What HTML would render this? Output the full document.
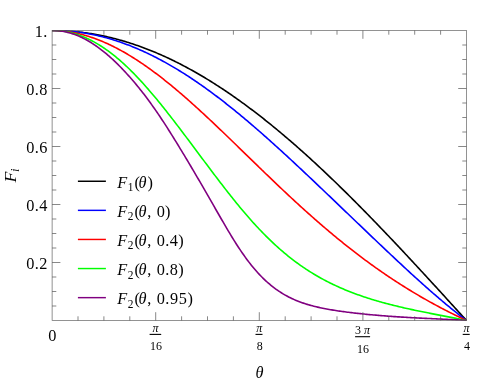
<!DOCTYPE html>
<html><head><meta charset="utf-8"><style>html,body{margin:0;padding:0;background:#fff}svg{display:block}</style></head><body><svg width="498" height="383" viewBox="0 0 498 383">
<rect width="498" height="383" fill="#fff"/>
<clipPath id="pc"><rect x="51.80" y="30.20" width="415.00" height="290.60"/></clipPath>
<g fill="none" stroke-width="1.6" stroke-linejoin="round" clip-path="url(#pc)">
<path d="M52.10 30.50 L53.40 30.50 L54.69 30.51 L55.98 30.53 L57.28 30.56 L58.58 30.59 L59.87 30.63 L61.16 30.67 L62.46 30.72 L63.76 30.78 L65.05 30.85 L66.34 30.92 L67.64 31.00 L68.94 31.09 L70.23 31.18 L71.53 31.29 L72.82 31.39 L74.12 31.51 L75.41 31.63 L76.70 31.76 L78.00 31.90 L79.30 32.04 L80.59 32.19 L81.89 32.35 L83.18 32.51 L84.47 32.68 L85.77 32.86 L87.06 33.04 L88.36 33.23 L89.66 33.43 L90.95 33.64 L92.25 33.85 L93.54 34.07 L94.84 34.30 L96.13 34.53 L97.42 34.77 L98.72 35.02 L100.02 35.27 L101.31 35.53 L102.61 35.80 L103.90 36.07 L105.20 36.35 L106.49 36.64 L107.78 36.94 L109.08 37.24 L110.38 37.55 L111.67 37.86 L112.97 38.18 L114.26 38.51 L115.56 38.85 L116.85 39.19 L118.15 39.54 L119.44 39.90 L120.74 40.26 L122.03 40.63 L123.32 41.00 L124.62 41.39 L125.91 41.78 L127.21 42.17 L128.50 42.58 L129.80 42.99 L131.09 43.40 L132.39 43.83 L133.69 44.26 L134.98 44.69 L136.28 45.14 L137.57 45.59 L138.87 46.04 L140.16 46.51 L141.46 46.98 L142.75 47.45 L144.05 47.94 L145.34 48.42 L146.64 48.92 L147.93 49.42 L149.22 49.93 L150.52 50.45 L151.81 50.97 L153.11 51.50 L154.41 52.03 L155.70 52.57 L157.00 53.12 L158.29 53.68 L159.59 54.24 L160.88 54.81 L162.17 55.38 L163.47 55.96 L164.77 56.55 L166.06 57.14 L167.35 57.74 L168.65 58.34 L169.94 58.95 L171.24 59.57 L172.53 60.20 L173.83 60.83 L175.12 61.46 L176.42 62.11 L177.72 62.76 L179.01 63.41 L180.30 64.07 L181.60 64.74 L182.90 65.42 L184.19 66.10 L185.48 66.78 L186.78 67.48 L188.07 68.17 L189.37 68.88 L190.66 69.59 L191.96 70.31 L193.25 71.03 L194.55 71.76 L195.84 72.49 L197.14 73.23 L198.44 73.98 L199.73 74.73 L201.02 75.49 L202.32 76.26 L203.62 77.03 L204.91 77.80 L206.20 78.59 L207.50 79.37 L208.80 80.17 L210.09 80.97 L211.38 81.77 L212.68 82.58 L213.97 83.40 L215.27 84.22 L216.56 85.05 L217.86 85.89 L219.16 86.72 L220.45 87.57 L221.75 88.42 L223.04 89.28 L224.34 90.14 L225.63 91.01 L226.92 91.88 L228.22 92.76 L229.51 93.64 L230.81 94.53 L232.10 95.43 L233.40 96.33 L234.69 97.23 L235.99 98.14 L237.28 99.06 L238.58 99.98 L239.87 100.91 L241.17 101.84 L242.47 102.78 L243.76 103.72 L245.05 104.67 L246.35 105.62 L247.65 106.58 L248.94 107.55 L250.23 108.52 L251.53 109.49 L252.82 110.47 L254.12 111.45 L255.41 112.44 L256.71 113.44 L258.00 114.43 L259.30 115.44 L260.60 116.45 L261.89 117.46 L263.19 118.48 L264.48 119.50 L265.77 120.53 L267.07 121.57 L268.37 122.60 L269.66 123.65 L270.96 124.70 L272.25 125.75 L273.55 126.81 L274.84 127.87 L276.13 128.93 L277.43 130.00 L278.73 131.08 L280.02 132.16 L281.31 133.24 L282.61 134.33 L283.91 135.43 L285.20 136.53 L286.50 137.63 L287.79 138.74 L289.08 139.85 L290.38 140.96 L291.68 142.08 L292.97 143.21 L294.26 144.34 L295.56 145.47 L296.86 146.61 L298.15 147.75 L299.44 148.89 L300.74 150.04 L302.04 151.20 L303.33 152.35 L304.62 153.52 L305.92 154.68 L307.22 155.85 L308.51 157.03 L309.81 158.20 L311.10 159.38 L312.40 160.57 L313.69 161.76 L314.99 162.95 L316.28 164.15 L317.57 165.35 L318.87 166.56 L320.17 167.76 L321.46 168.98 L322.76 170.19 L324.05 171.41 L325.35 172.63 L326.64 173.86 L327.94 175.09 L329.23 176.32 L330.53 177.56 L331.82 178.80 L333.12 180.04 L334.41 181.29 L335.71 182.54 L337.00 183.79 L338.30 185.05 L339.59 186.31 L340.88 187.58 L342.18 188.84 L343.48 190.11 L344.77 191.39 L346.07 192.66 L347.36 193.94 L348.66 195.22 L349.95 196.51 L351.25 197.80 L352.54 199.09 L353.84 200.38 L355.13 201.68 L356.43 202.98 L357.72 204.28 L359.02 205.59 L360.31 206.90 L361.61 208.21 L362.90 209.52 L364.20 210.84 L365.49 212.16 L366.79 213.48 L368.08 214.80 L369.38 216.13 L370.67 217.46 L371.97 218.79 L373.26 220.13 L374.56 221.46 L375.85 222.80 L377.15 224.14 L378.44 225.49 L379.74 226.83 L381.03 228.18 L382.32 229.53 L383.62 230.89 L384.92 232.24 L386.21 233.60 L387.51 234.96 L388.80 236.32 L390.10 237.68 L391.39 239.05 L392.69 240.41 L393.98 241.78 L395.27 243.15 L396.57 244.53 L397.87 245.90 L399.16 247.28 L400.46 248.66 L401.75 250.04 L403.05 251.42 L404.34 252.80 L405.63 254.19 L406.93 255.57 L408.23 256.96 L409.52 258.35 L410.82 259.74 L412.11 261.13 L413.41 262.53 L414.70 263.92 L416.00 265.32 L417.29 266.72 L418.59 268.12 L419.88 269.52 L421.18 270.92 L422.47 272.32 L423.77 273.73 L425.06 275.13 L426.36 276.54 L427.65 277.95 L428.94 279.36 L430.24 280.77 L431.54 282.18 L432.83 283.59 L434.12 285.00 L435.42 286.41 L436.72 287.83 L438.01 289.24 L439.31 290.66 L440.60 292.08 L441.90 293.49 L443.19 294.91 L444.49 296.33 L445.78 297.75 L447.07 299.17 L448.37 300.59 L449.67 302.01 L450.96 303.43 L452.26 304.85 L453.55 306.27 L454.85 307.69 L456.14 309.11 L457.44 310.54 L458.73 311.96 L460.02 313.38 L461.32 314.81 L462.62 316.23 L463.91 317.65 L465.21 319.08 L466.50 320.50" stroke="#000000"/>
<path d="M52.10 30.41 L53.40 30.41 L54.69 30.42 L55.98 30.44 L57.28 30.47 L58.58 30.50 L59.87 30.55 L61.16 30.60 L62.46 30.66 L63.76 30.73 L65.05 30.81 L66.34 30.90 L67.64 30.99 L68.94 31.10 L70.23 31.21 L71.53 31.33 L72.82 31.46 L74.12 31.60 L75.41 31.75 L76.70 31.90 L78.00 32.07 L79.30 32.24 L80.59 32.42 L81.89 32.61 L83.18 32.81 L84.47 33.02 L85.77 33.24 L87.06 33.46 L88.36 33.69 L89.66 33.94 L90.95 34.19 L92.25 34.44 L93.54 34.71 L94.84 34.99 L96.13 35.27 L97.42 35.57 L98.72 35.87 L100.02 36.18 L101.31 36.50 L102.61 36.82 L103.90 37.16 L105.20 37.50 L106.49 37.85 L107.78 38.22 L109.08 38.58 L110.38 38.96 L111.67 39.35 L112.97 39.74 L114.26 40.14 L115.56 40.56 L116.85 40.98 L118.15 41.40 L119.44 41.84 L120.74 42.28 L122.03 42.74 L123.32 43.20 L124.62 43.66 L125.91 44.14 L127.21 44.63 L128.50 45.12 L129.80 45.62 L131.09 46.13 L132.39 46.65 L133.69 47.17 L134.98 47.71 L136.28 48.25 L137.57 48.80 L138.87 49.36 L140.16 49.92 L141.46 50.50 L142.75 51.08 L144.05 51.67 L145.34 52.27 L146.64 52.87 L147.93 53.48 L149.22 54.11 L150.52 54.73 L151.81 55.37 L153.11 56.01 L154.41 56.67 L155.70 57.33 L157.00 57.99 L158.29 58.67 L159.59 59.35 L160.88 60.04 L162.17 60.73 L163.47 61.44 L164.77 62.15 L166.06 62.87 L167.35 63.60 L168.65 64.33 L169.94 65.07 L171.24 65.82 L172.53 66.57 L173.83 67.34 L175.12 68.11 L176.42 68.88 L177.72 69.67 L179.01 70.46 L180.30 71.26 L181.60 72.06 L182.90 72.87 L184.19 73.69 L185.48 74.52 L186.78 75.35 L188.07 76.19 L189.37 77.03 L190.66 77.89 L191.96 78.75 L193.25 79.61 L194.55 80.48 L195.84 81.36 L197.14 82.25 L198.44 83.14 L199.73 84.04 L201.02 84.94 L202.32 85.85 L203.62 86.77 L204.91 87.69 L206.20 88.62 L207.50 89.55 L208.80 90.49 L210.09 91.44 L211.38 92.39 L212.68 93.35 L213.97 94.32 L215.27 95.29 L216.56 96.26 L217.86 97.24 L219.16 98.23 L220.45 99.22 L221.75 100.22 L223.04 101.23 L224.34 102.23 L225.63 103.25 L226.92 104.27 L228.22 105.29 L229.51 106.32 L230.81 107.35 L232.10 108.39 L233.40 109.44 L234.69 110.49 L235.99 111.54 L237.28 112.60 L238.58 113.66 L239.87 114.73 L241.17 115.80 L242.47 116.88 L243.76 117.96 L245.05 119.05 L246.35 120.13 L247.65 121.23 L248.94 122.33 L250.23 123.43 L251.53 124.53 L252.82 125.64 L254.12 126.76 L255.41 127.88 L256.71 129.00 L258.00 130.12 L259.30 131.25 L260.60 132.38 L261.89 133.52 L263.19 134.66 L264.48 135.80 L265.77 136.95 L267.07 138.10 L268.37 139.25 L269.66 140.41 L270.96 141.57 L272.25 142.73 L273.55 143.89 L274.84 145.06 L276.13 146.23 L277.43 147.40 L278.73 148.58 L280.02 149.76 L281.31 150.94 L282.61 152.13 L283.91 153.31 L285.20 154.50 L286.50 155.69 L287.79 156.89 L289.08 158.08 L290.38 159.28 L291.68 160.48 L292.97 161.68 L294.26 162.89 L295.56 164.09 L296.86 165.30 L298.15 166.51 L299.44 167.72 L300.74 168.94 L302.04 170.15 L303.33 171.37 L304.62 172.59 L305.92 173.81 L307.22 175.03 L308.51 176.25 L309.81 177.47 L311.10 178.70 L312.40 179.92 L313.69 181.15 L314.99 182.38 L316.28 183.61 L317.57 184.84 L318.87 186.07 L320.17 187.30 L321.46 188.54 L322.76 189.77 L324.05 191.01 L325.35 192.24 L326.64 193.48 L327.94 194.71 L329.23 195.95 L330.53 197.19 L331.82 198.43 L333.12 199.66 L334.41 200.90 L335.71 202.14 L337.00 203.38 L338.30 204.62 L339.59 205.86 L340.88 207.10 L342.18 208.34 L343.48 209.58 L344.77 210.81 L346.07 212.05 L347.36 213.29 L348.66 214.53 L349.95 215.77 L351.25 217.01 L352.54 218.25 L353.84 219.49 L355.13 220.73 L356.43 221.97 L357.72 223.21 L359.02 224.45 L360.31 225.68 L361.61 226.92 L362.90 228.16 L364.20 229.40 L365.49 230.64 L366.79 231.87 L368.08 233.11 L369.38 234.34 L370.67 235.58 L371.97 236.81 L373.26 238.05 L374.56 239.28 L375.85 240.51 L377.15 241.75 L378.44 242.98 L379.74 244.21 L381.03 245.44 L382.32 246.66 L383.62 247.89 L384.92 249.12 L386.21 250.34 L387.51 251.57 L388.80 252.79 L390.10 254.01 L391.39 255.23 L392.69 256.45 L393.98 257.66 L395.27 258.88 L396.57 260.09 L397.87 261.30 L399.16 262.51 L400.46 263.71 L401.75 264.92 L403.05 266.12 L404.34 267.32 L405.63 268.52 L406.93 269.72 L408.23 270.91 L409.52 272.10 L410.82 273.29 L412.11 274.47 L413.41 275.65 L414.70 276.83 L416.00 278.01 L417.29 279.18 L418.59 280.35 L419.88 281.52 L421.18 282.68 L422.47 283.84 L423.77 285.00 L425.06 286.15 L426.36 287.30 L427.65 288.45 L428.94 289.59 L430.24 290.73 L431.54 291.86 L432.83 292.99 L434.12 294.11 L435.42 295.23 L436.72 296.35 L438.01 297.46 L439.31 298.56 L440.60 299.66 L441.90 300.76 L443.19 301.85 L444.49 302.94 L445.78 304.02 L447.07 305.09 L448.37 306.16 L449.67 307.23 L450.96 308.28 L452.26 309.34 L453.55 310.38 L454.85 311.42 L456.14 312.46 L457.44 313.49 L458.73 314.51 L460.02 315.52 L461.32 316.53 L462.62 317.53 L463.91 318.53 L465.21 319.52 L466.50 320.50" stroke="#0000ff"/>
<path d="M52.10 30.38 L53.40 30.40 L54.69 30.44 L55.98 30.49 L57.28 30.56 L58.58 30.64 L59.87 30.73 L61.16 30.84 L62.46 30.97 L63.76 31.10 L65.05 31.26 L66.34 31.42 L67.64 31.60 L68.94 31.79 L70.23 32.00 L71.53 32.22 L72.82 32.46 L74.12 32.71 L75.41 32.97 L76.70 33.25 L78.00 33.54 L79.30 33.84 L80.59 34.16 L81.89 34.49 L83.18 34.84 L84.47 35.20 L85.77 35.57 L87.06 35.95 L88.36 36.35 L89.66 36.76 L90.95 37.18 L92.25 37.62 L93.54 38.07 L94.84 38.53 L96.13 39.01 L97.42 39.50 L98.72 40.00 L100.02 40.51 L101.31 41.04 L102.61 41.58 L103.90 42.13 L105.20 42.69 L106.49 43.27 L107.78 43.85 L109.08 44.45 L110.38 45.07 L111.67 45.69 L112.97 46.32 L114.26 46.97 L115.56 47.63 L116.85 48.30 L118.15 48.98 L119.44 49.67 L120.74 50.38 L122.03 51.09 L123.32 51.82 L124.62 52.55 L125.91 53.30 L127.21 54.06 L128.50 54.83 L129.80 55.61 L131.09 56.40 L132.39 57.20 L133.69 58.01 L134.98 58.83 L136.28 59.66 L137.57 60.50 L138.87 61.35 L140.16 62.21 L141.46 63.08 L142.75 63.96 L144.05 64.85 L145.34 65.75 L146.64 66.66 L147.93 67.57 L149.22 68.50 L150.52 69.43 L151.81 70.38 L153.11 71.33 L154.41 72.29 L155.70 73.26 L157.00 74.23 L158.29 75.22 L159.59 76.21 L160.88 77.21 L162.17 78.22 L163.47 79.24 L164.77 80.26 L166.06 81.29 L167.35 82.33 L168.65 83.38 L169.94 84.43 L171.24 85.49 L172.53 86.56 L173.83 87.63 L175.12 88.71 L176.42 89.80 L177.72 90.89 L179.01 91.99 L180.30 93.10 L181.60 94.21 L182.90 95.33 L184.19 96.45 L185.48 97.58 L186.78 98.72 L188.07 99.86 L189.37 101.00 L190.66 102.15 L191.96 103.31 L193.25 104.47 L194.55 105.64 L195.84 106.81 L197.14 107.98 L198.44 109.16 L199.73 110.35 L201.02 111.54 L202.32 112.73 L203.62 113.93 L204.91 115.13 L206.20 116.33 L207.50 117.54 L208.80 118.75 L210.09 119.97 L211.38 121.19 L212.68 122.41 L213.97 123.63 L215.27 124.86 L216.56 126.09 L217.86 127.33 L219.16 128.56 L220.45 129.80 L221.75 131.04 L223.04 132.28 L224.34 133.53 L225.63 134.77 L226.92 136.02 L228.22 137.27 L229.51 138.52 L230.81 139.77 L232.10 141.03 L233.40 142.28 L234.69 143.54 L235.99 144.80 L237.28 146.05 L238.58 147.31 L239.87 148.57 L241.17 149.83 L242.47 151.09 L243.76 152.35 L245.05 153.61 L246.35 154.87 L247.65 156.13 L248.94 157.39 L250.23 158.65 L251.53 159.91 L252.82 161.17 L254.12 162.42 L255.41 163.68 L256.71 164.94 L258.00 166.19 L259.30 167.45 L260.60 168.70 L261.89 169.95 L263.19 171.20 L264.48 172.45 L265.77 173.70 L267.07 174.95 L268.37 176.19 L269.66 177.44 L270.96 178.68 L272.25 179.92 L273.55 181.16 L274.84 182.39 L276.13 183.62 L277.43 184.86 L278.73 186.08 L280.02 187.31 L281.31 188.54 L282.61 189.76 L283.91 190.98 L285.20 192.19 L286.50 193.41 L287.79 194.62 L289.08 195.83 L290.38 197.03 L291.68 198.23 L292.97 199.43 L294.26 200.63 L295.56 201.82 L296.86 203.01 L298.15 204.20 L299.44 205.38 L300.74 206.56 L302.04 207.74 L303.33 208.91 L304.62 210.08 L305.92 211.25 L307.22 212.41 L308.51 213.57 L309.81 214.72 L311.10 215.87 L312.40 217.02 L313.69 218.16 L314.99 219.30 L316.28 220.43 L317.57 221.56 L318.87 222.69 L320.17 223.81 L321.46 224.93 L322.76 226.05 L324.05 227.16 L325.35 228.26 L326.64 229.36 L327.94 230.46 L329.23 231.55 L330.53 232.64 L331.82 233.73 L333.12 234.81 L334.41 235.88 L335.71 236.95 L337.00 238.02 L338.30 239.08 L339.59 240.13 L340.88 241.19 L342.18 242.23 L343.48 243.28 L344.77 244.31 L346.07 245.35 L347.36 246.38 L348.66 247.40 L349.95 248.42 L351.25 249.43 L352.54 250.44 L353.84 251.45 L355.13 252.45 L356.43 253.44 L357.72 254.43 L359.02 255.42 L360.31 256.40 L361.61 257.37 L362.90 258.35 L364.20 259.31 L365.49 260.27 L366.79 261.23 L368.08 262.18 L369.38 263.12 L370.67 264.07 L371.97 265.00 L373.26 265.93 L374.56 266.86 L375.85 267.78 L377.15 268.70 L378.44 269.61 L379.74 270.51 L381.03 271.42 L382.32 272.31 L383.62 273.20 L384.92 274.09 L386.21 274.97 L387.51 275.85 L388.80 276.72 L390.10 277.59 L391.39 278.45 L392.69 279.31 L393.98 280.16 L395.27 281.01 L396.57 281.85 L397.87 282.69 L399.16 283.52 L400.46 284.35 L401.75 285.17 L403.05 285.99 L404.34 286.80 L405.63 287.61 L406.93 288.42 L408.23 289.21 L409.52 290.01 L410.82 290.80 L412.11 291.58 L413.41 292.36 L414.70 293.14 L416.00 293.91 L417.29 294.67 L418.59 295.43 L419.88 296.19 L421.18 296.94 L422.47 297.69 L423.77 298.43 L425.06 299.17 L426.36 299.90 L427.65 300.63 L428.94 301.36 L430.24 302.08 L431.54 302.79 L432.83 303.50 L434.12 304.21 L435.42 304.91 L436.72 305.61 L438.01 306.30 L439.31 306.99 L440.60 307.68 L441.90 308.36 L443.19 309.03 L444.49 309.71 L445.78 310.37 L447.07 311.04 L448.37 311.70 L449.67 312.35 L450.96 313.00 L452.26 313.65 L453.55 314.29 L454.85 314.93 L456.14 315.57 L457.44 316.20 L458.73 316.82 L460.02 317.45 L461.32 318.06 L462.62 318.68 L463.91 319.29 L465.21 319.90 L466.50 320.50" stroke="#ff0000"/>
<path d="M52.10 30.42 L53.40 30.43 L54.69 30.47 L55.98 30.52 L57.28 30.60 L58.58 30.70 L59.87 30.82 L61.16 30.96 L62.46 31.13 L63.76 31.31 L65.05 31.52 L66.34 31.75 L67.64 32.00 L68.94 32.28 L70.23 32.57 L71.53 32.89 L72.82 33.23 L74.12 33.59 L75.41 33.97 L76.70 34.38 L78.00 34.81 L79.30 35.26 L80.59 35.73 L81.89 36.22 L83.18 36.74 L84.47 37.28 L85.77 37.84 L87.06 38.42 L88.36 39.03 L89.66 39.65 L90.95 40.30 L92.25 40.97 L93.54 41.67 L94.84 42.38 L96.13 43.12 L97.42 43.87 L98.72 44.65 L100.02 45.46 L101.31 46.28 L102.61 47.12 L103.90 47.99 L105.20 48.87 L106.49 49.78 L107.78 50.71 L109.08 51.66 L110.38 52.63 L111.67 53.62 L112.97 54.63 L114.26 55.66 L115.56 56.71 L116.85 57.78 L118.15 58.87 L119.44 59.98 L120.74 61.11 L122.03 62.26 L123.32 63.43 L124.62 64.62 L125.91 65.82 L127.21 67.04 L128.50 68.29 L129.80 69.55 L131.09 70.82 L132.39 72.12 L133.69 73.43 L134.98 74.76 L136.28 76.11 L137.57 77.47 L138.87 78.84 L140.16 80.24 L141.46 81.65 L142.75 83.07 L144.05 84.51 L145.34 85.96 L146.64 87.42 L147.93 88.90 L149.22 90.40 L150.52 91.90 L151.81 93.42 L153.11 94.95 L154.41 96.49 L155.70 98.04 L157.00 99.61 L158.29 101.18 L159.59 102.77 L160.88 104.36 L162.17 105.97 L163.47 107.58 L164.77 109.21 L166.06 110.84 L167.35 112.48 L168.65 114.13 L169.94 115.79 L171.24 117.45 L172.53 119.12 L173.83 120.80 L175.12 122.48 L176.42 124.17 L177.72 125.87 L179.01 127.57 L180.30 129.27 L181.60 130.98 L182.90 132.69 L184.19 134.41 L185.48 136.13 L186.78 137.86 L188.07 139.58 L189.37 141.31 L190.66 143.04 L191.96 144.77 L193.25 146.51 L194.55 148.24 L195.84 149.98 L197.14 151.72 L198.44 153.45 L199.73 155.19 L201.02 156.92 L202.32 158.66 L203.62 160.39 L204.91 162.12 L206.20 163.85 L207.50 165.58 L208.80 167.30 L210.09 169.03 L211.38 170.75 L212.68 172.46 L213.97 174.18 L215.27 175.88 L216.56 177.59 L217.86 179.29 L219.16 180.98 L220.45 182.67 L221.75 184.36 L223.04 186.04 L224.34 187.71 L225.63 189.38 L226.92 191.04 L228.22 192.69 L229.51 194.34 L230.81 195.97 L232.10 197.60 L233.40 199.22 L234.69 200.83 L235.99 202.43 L237.28 204.02 L238.58 205.60 L239.87 207.17 L241.17 208.72 L242.47 210.27 L243.76 211.80 L245.05 213.32 L246.35 214.83 L247.65 216.33 L248.94 217.81 L250.23 219.28 L251.53 220.74 L252.82 222.19 L254.12 223.62 L255.41 225.03 L256.71 226.44 L258.00 227.83 L259.30 229.20 L260.60 230.56 L261.89 231.91 L263.19 233.24 L264.48 234.56 L265.77 235.86 L267.07 237.15 L268.37 238.43 L269.66 239.69 L270.96 240.93 L272.25 242.16 L273.55 243.38 L274.84 244.58 L276.13 245.76 L277.43 246.93 L278.73 248.09 L280.02 249.23 L281.31 250.36 L282.61 251.47 L283.91 252.57 L285.20 253.65 L286.50 254.72 L287.79 255.77 L289.08 256.81 L290.38 257.84 L291.68 258.85 L292.97 259.85 L294.26 260.83 L295.56 261.80 L296.86 262.76 L298.15 263.70 L299.44 264.63 L300.74 265.54 L302.04 266.44 L303.33 267.33 L304.62 268.21 L305.92 269.07 L307.22 269.92 L308.51 270.75 L309.81 271.58 L311.10 272.39 L312.40 273.19 L313.69 273.97 L314.99 274.75 L316.28 275.51 L317.57 276.26 L318.87 277.00 L320.17 277.73 L321.46 278.45 L322.76 279.15 L324.05 279.85 L325.35 280.53 L326.64 281.21 L327.94 281.87 L329.23 282.53 L330.53 283.17 L331.82 283.80 L333.12 284.43 L334.41 285.04 L335.71 285.65 L337.00 286.25 L338.30 286.83 L339.59 287.41 L340.88 287.98 L342.18 288.54 L343.48 289.09 L344.77 289.64 L346.07 290.18 L347.36 290.70 L348.66 291.22 L349.95 291.74 L351.25 292.24 L352.54 292.74 L353.84 293.23 L355.13 293.71 L356.43 294.19 L357.72 294.66 L359.02 295.12 L360.31 295.57 L361.61 296.02 L362.90 296.46 L364.20 296.90 L365.49 297.33 L366.79 297.75 L368.08 298.17 L369.38 298.58 L370.67 298.99 L371.97 299.39 L373.26 299.79 L374.56 300.18 L375.85 300.56 L377.15 300.94 L378.44 301.31 L379.74 301.68 L381.03 302.05 L382.32 302.41 L383.62 302.76 L384.92 303.11 L386.21 303.46 L387.51 303.80 L388.80 304.14 L390.10 304.47 L391.39 304.80 L392.69 305.13 L393.98 305.45 L395.27 305.77 L396.57 306.09 L397.87 306.40 L399.16 306.71 L400.46 307.01 L401.75 307.31 L403.05 307.61 L404.34 307.91 L405.63 308.20 L406.93 308.49 L408.23 308.78 L409.52 309.06 L410.82 309.35 L412.11 309.63 L413.41 309.90 L414.70 310.18 L416.00 310.45 L417.29 310.72 L418.59 310.99 L419.88 311.26 L421.18 311.53 L422.47 311.79 L423.77 312.05 L425.06 312.32 L426.36 312.58 L427.65 312.83 L428.94 313.09 L430.24 313.35 L431.54 313.60 L432.83 313.86 L434.12 314.11 L435.42 314.36 L436.72 314.62 L438.01 314.87 L439.31 315.12 L440.60 315.37 L441.90 315.62 L443.19 315.87 L444.49 316.12 L445.78 316.37 L447.07 316.62 L448.37 316.88 L449.67 317.13 L450.96 317.38 L452.26 317.63 L453.55 317.89 L454.85 318.14 L456.14 318.40 L457.44 318.66 L458.73 318.91 L460.02 319.17 L461.32 319.44 L462.62 319.70 L463.91 319.96 L465.21 320.23 L466.50 320.50" stroke="#00ff00"/>
<path d="M52.10 30.51 L53.40 30.51 L54.69 30.54 L55.98 30.60 L57.28 30.69 L58.58 30.80 L59.87 30.94 L61.16 31.11 L62.46 31.31 L63.76 31.54 L65.05 31.79 L66.34 32.07 L67.64 32.38 L68.94 32.71 L70.23 33.07 L71.53 33.46 L72.82 33.88 L74.12 34.33 L75.41 34.80 L76.70 35.30 L78.00 35.83 L79.30 36.38 L80.59 36.96 L81.89 37.57 L83.18 38.20 L84.47 38.86 L85.77 39.55 L87.06 40.26 L88.36 41.00 L89.66 41.76 L90.95 42.55 L92.25 43.37 L93.54 44.21 L94.84 45.08 L96.13 45.97 L97.42 46.88 L98.72 47.82 L100.02 48.79 L101.31 49.77 L102.61 50.79 L103.90 51.82 L105.20 52.88 L106.49 53.96 L107.78 55.07 L109.08 56.19 L110.38 57.34 L111.67 58.52 L112.97 59.71 L114.26 60.92 L115.56 62.16 L116.85 63.41 L118.15 64.69 L119.44 65.99 L120.74 67.31 L122.03 68.64 L123.32 70.00 L124.62 71.37 L125.91 72.77 L127.21 74.18 L128.50 75.61 L129.80 77.06 L131.09 78.53 L132.39 80.02 L133.69 81.53 L134.98 83.07 L136.28 84.62 L137.57 86.19 L138.87 87.78 L140.16 89.40 L141.46 91.03 L142.75 92.69 L144.05 94.36 L145.34 96.06 L146.64 97.78 L147.93 99.52 L149.22 101.28 L150.52 103.06 L151.81 104.86 L153.11 106.68 L154.41 108.52 L155.70 110.38 L157.00 112.25 L158.29 114.15 L159.59 116.07 L160.88 118.01 L162.17 119.96 L163.47 121.93 L164.77 123.92 L166.06 125.92 L167.35 127.94 L168.65 129.97 L169.94 132.02 L171.24 134.08 L172.53 136.15 L173.83 138.23 L175.12 140.33 L176.42 142.43 L177.72 144.54 L179.01 146.66 L180.30 148.79 L181.60 150.92 L182.90 153.06 L184.19 155.21 L185.48 157.36 L186.78 159.51 L188.07 161.68 L189.37 163.85 L190.66 166.03 L191.96 168.22 L193.25 170.41 L194.55 172.61 L195.84 174.81 L197.14 177.03 L198.44 179.25 L199.73 181.47 L201.02 183.70 L202.32 185.94 L203.62 188.18 L204.91 190.43 L206.20 192.68 L207.50 194.93 L208.80 197.19 L210.09 199.44 L211.38 201.70 L212.68 203.96 L213.97 206.22 L215.27 208.48 L216.56 210.74 L217.86 212.99 L219.16 215.24 L220.45 217.49 L221.75 219.73 L223.04 221.96 L224.34 224.19 L225.63 226.40 L226.92 228.61 L228.22 230.79 L229.51 232.96 L230.81 235.11 L232.10 237.24 L233.40 239.34 L234.69 241.41 L235.99 243.46 L237.28 245.48 L238.58 247.46 L239.87 249.41 L241.17 251.33 L242.47 253.22 L243.76 255.07 L245.05 256.89 L246.35 258.66 L247.65 260.40 L248.94 262.11 L250.23 263.77 L251.53 265.40 L252.82 266.99 L254.12 268.54 L255.41 270.05 L256.71 271.53 L258.00 272.96 L259.30 274.36 L260.60 275.72 L261.89 277.05 L263.19 278.33 L264.48 279.58 L265.77 280.80 L267.07 281.98 L268.37 283.12 L269.66 284.23 L270.96 285.31 L272.25 286.35 L273.55 287.36 L274.84 288.34 L276.13 289.28 L277.43 290.20 L278.73 291.09 L280.02 291.94 L281.31 292.77 L282.61 293.57 L283.91 294.35 L285.20 295.09 L286.50 295.81 L287.79 296.51 L289.08 297.18 L290.38 297.83 L291.68 298.45 L292.97 299.05 L294.26 299.63 L295.56 300.19 L296.86 300.73 L298.15 301.25 L299.44 301.75 L300.74 302.23 L302.04 302.69 L303.33 303.13 L304.62 303.56 L305.92 303.97 L307.22 304.37 L308.51 304.76 L309.81 305.13 L311.10 305.49 L312.40 305.83 L313.69 306.17 L314.99 306.49 L316.28 306.81 L317.57 307.11 L318.87 307.40 L320.17 307.69 L321.46 307.97 L322.76 308.23 L324.05 308.49 L325.35 308.75 L326.64 308.99 L327.94 309.23 L329.23 309.46 L330.53 309.69 L331.82 309.91 L333.12 310.12 L334.41 310.33 L335.71 310.54 L337.00 310.73 L338.30 310.93 L339.59 311.12 L340.88 311.30 L342.18 311.48 L343.48 311.66 L344.77 311.83 L346.07 312.00 L347.36 312.17 L348.66 312.33 L349.95 312.49 L351.25 312.65 L352.54 312.80 L353.84 312.95 L355.13 313.10 L356.43 313.25 L357.72 313.39 L359.02 313.53 L360.31 313.67 L361.61 313.80 L362.90 313.94 L364.20 314.07 L365.49 314.20 L366.79 314.33 L368.08 314.46 L369.38 314.58 L370.67 314.70 L371.97 314.82 L373.26 314.94 L374.56 315.06 L375.85 315.17 L377.15 315.28 L378.44 315.40 L379.74 315.50 L381.03 315.61 L382.32 315.72 L383.62 315.82 L384.92 315.92 L386.21 316.02 L387.51 316.12 L388.80 316.21 L390.10 316.31 L391.39 316.40 L392.69 316.49 L393.98 316.58 L395.27 316.67 L396.57 316.75 L397.87 316.84 L399.16 316.92 L400.46 317.00 L401.75 317.08 L403.05 317.16 L404.34 317.24 L405.63 317.31 L406.93 317.39 L408.23 317.46 L409.52 317.54 L410.82 317.61 L412.11 317.68 L413.41 317.75 L414.70 317.81 L416.00 317.88 L417.29 317.95 L418.59 318.01 L419.88 318.08 L421.18 318.14 L422.47 318.21 L423.77 318.27 L425.06 318.33 L426.36 318.39 L427.65 318.45 L428.94 318.51 L430.24 318.57 L431.54 318.63 L432.83 318.69 L434.12 318.75 L435.42 318.81 L436.72 318.87 L438.01 318.93 L439.31 318.99 L440.60 319.05 L441.90 319.12 L443.19 319.18 L444.49 319.24 L445.78 319.30 L447.07 319.36 L448.37 319.43 L449.67 319.49 L450.96 319.56 L452.26 319.63 L453.55 319.70 L454.85 319.77 L456.14 319.84 L457.44 319.91 L458.73 319.99 L460.02 320.07 L461.32 320.15 L462.62 320.23 L463.91 320.32 L465.21 320.41 L466.50 320.50" stroke="#800080"/>
</g>
<g fill="none" stroke="#555" stroke-width="0.7">
<rect x="52.1" y="30.5" width="414.4" height="290.0" stroke-width="0.64"/>
<path d="M78.00 320.50v-4.2M78.00 30.50v4.2M103.90 320.50v-4.2M103.90 30.50v4.2M129.80 320.50v-4.2M129.80 30.50v4.2M155.70 320.50v-8.3M155.70 30.50v8.3M181.60 320.50v-4.2M181.60 30.50v4.2M207.50 320.50v-4.2M207.50 30.50v4.2M233.40 320.50v-4.2M233.40 30.50v4.2M259.30 320.50v-8.3M259.30 30.50v8.3M285.20 320.50v-4.2M285.20 30.50v4.2M311.10 320.50v-4.2M311.10 30.50v4.2M337.00 320.50v-4.2M337.00 30.50v4.2M362.90 320.50v-8.3M362.90 30.50v8.3M388.80 320.50v-4.2M388.80 30.50v4.2M414.70 320.50v-4.2M414.70 30.50v4.2M440.60 320.50v-4.2M440.60 30.50v4.2M52.10 306.00h4.2M466.50 306.00h-4.2M52.10 291.50h4.2M466.50 291.50h-4.2M52.10 277.00h4.2M466.50 277.00h-4.2M52.10 262.50h8.3M466.50 262.50h-8.3M52.10 248.00h4.2M466.50 248.00h-4.2M52.10 233.50h4.2M466.50 233.50h-4.2M52.10 219.00h4.2M466.50 219.00h-4.2M52.10 204.50h8.3M466.50 204.50h-8.3M52.10 190.00h4.2M466.50 190.00h-4.2M52.10 175.50h4.2M466.50 175.50h-4.2M52.10 161.00h4.2M466.50 161.00h-4.2M52.10 146.50h8.3M466.50 146.50h-8.3M52.10 132.00h4.2M466.50 132.00h-4.2M52.10 117.50h4.2M466.50 117.50h-4.2M52.10 103.00h4.2M466.50 103.00h-4.2M52.10 88.50h8.3M466.50 88.50h-8.3M52.10 74.00h4.2M466.50 74.00h-4.2M52.10 59.50h4.2M466.50 59.50h-4.2M52.10 45.00h4.2M466.50 45.00h-4.2"/>
</g>
<g fill="none" stroke-width="1.45">
<path d="M77.9 181.25H105.9" stroke="#000000"/>
<path d="M77.9 210.35H105.9" stroke="#0000ff"/>
<path d="M77.9 239.45H105.9" stroke="#ff0000"/>
<path d="M77.9 268.55H105.9" stroke="#00ff00"/>
<path d="M77.9 297.65H105.9" stroke="#800080"/>
</g>
<g font-family="Liberation Serif, serif" fill="#000" opacity="0.99">
<text transform="translate(47.60,36.90) scale(1,1.070)" font-size="16.3" text-anchor="end" letter-spacing="0.3">1.</text>
<text transform="translate(47.60,94.90) scale(1,1.070)" font-size="16.3" text-anchor="end" letter-spacing="0.3">0.8</text>
<text transform="translate(47.60,152.90) scale(1,1.070)" font-size="16.3" text-anchor="end" letter-spacing="0.3">0.6</text>
<text transform="translate(47.60,210.90) scale(1,1.070)" font-size="16.3" text-anchor="end" letter-spacing="0.3">0.4</text>
<text transform="translate(47.60,268.90) scale(1,1.070)" font-size="16.3" text-anchor="end" letter-spacing="0.3">0.2</text>
<text transform="translate(52.20,340.70) scale(1,1.070)" font-size="16.3" text-anchor="middle">0</text>
<text transform="translate(0.00,187.90) scale(1,1.070)" font-size="16.3" text-anchor="start"><tspan x="117.3" font-style="italic">F</tspan><tspan x="127.7" dy="3.08" font-size="11.4">1</tspan><tspan dy="-3.08" x="134.6">(</tspan><tspan x="138.4" font-style="italic">θ</tspan><tspan x="147.4">)</tspan></text>
<text transform="translate(0.00,217.00) scale(1,1.070)" font-size="16.3" text-anchor="start"><tspan x="117.3" font-style="italic">F</tspan><tspan x="127.7" dy="3.08" font-size="11.4">2</tspan><tspan dy="-3.08" x="134.6">(</tspan><tspan x="138.4" font-style="italic">θ</tspan><tspan x="147.2">,</tspan><tspan x="156.8">0</tspan><tspan x="165.1">)</tspan></text>
<text transform="translate(0.00,246.10) scale(1,1.070)" font-size="16.3" text-anchor="start"><tspan x="117.3" font-style="italic">F</tspan><tspan x="127.7" dy="3.08" font-size="11.4">2</tspan><tspan dy="-3.08" x="134.6">(</tspan><tspan x="138.4" font-style="italic">θ</tspan><tspan x="147.2">,</tspan><tspan x="156.8">0</tspan><tspan x="165.3">.</tspan><tspan x="169.8">4</tspan><tspan x="178.2">)</tspan></text>
<text transform="translate(0.00,275.20) scale(1,1.070)" font-size="16.3" text-anchor="start"><tspan x="117.3" font-style="italic">F</tspan><tspan x="127.7" dy="3.08" font-size="11.4">2</tspan><tspan dy="-3.08" x="134.6">(</tspan><tspan x="138.4" font-style="italic">θ</tspan><tspan x="147.2">,</tspan><tspan x="156.8">0</tspan><tspan x="165.3">.</tspan><tspan x="169.8">8</tspan><tspan x="178.2">)</tspan></text>
<text transform="translate(0.00,304.30) scale(1,1.070)" font-size="16.3" text-anchor="start"><tspan x="117.3" font-style="italic">F</tspan><tspan x="127.7" dy="3.08" font-size="11.4">2</tspan><tspan dy="-3.08" x="134.6">(</tspan><tspan x="138.4" font-style="italic">θ</tspan><tspan x="147.2">,</tspan><tspan x="156.8">0</tspan><tspan x="165.3">.</tspan><tspan x="169.9">9</tspan><tspan x="178.7">5</tspan><tspan x="187.5">)</tspan></text>
<text transform="translate(155.40,331.50) scale(1,1.070)" font-size="12.0" text-anchor="middle"><tspan font-style="italic">π</tspan></text>
<text transform="translate(155.90,350.20) scale(1,1.070)" font-size="12.0" text-anchor="middle">16</text>
<text transform="translate(259.30,331.50) scale(1,1.070)" font-size="12.0" text-anchor="middle"><tspan font-style="italic">π</tspan></text>
<text transform="translate(259.80,350.20) scale(1,1.070)" font-size="12.0" text-anchor="middle">8</text>
<text transform="translate(362.60,334.10) scale(1,1.070)" font-size="12.0" text-anchor="middle">3 <tspan font-style="italic">π</tspan></text>
<text transform="translate(363.10,352.80) scale(1,1.070)" font-size="12.0" text-anchor="middle">16</text>
<text transform="translate(466.50,331.50) scale(1,1.070)" font-size="12.0" text-anchor="middle"><tspan font-style="italic">π</tspan></text>
<text transform="translate(467.00,350.20) scale(1,1.070)" font-size="12.0" text-anchor="middle">4</text>
<text transform="translate(259.50,377.70) scale(1,1.070)" font-size="16.3" text-anchor="middle" font-style="italic">θ</text>
<text transform="translate(15.9,182.4) rotate(-90) scale(1.1,1.070)" font-size="16.3" font-style="italic">F<tspan dx="-0.6" dy="3.1" font-size="11.4">i</tspan></text>
</g>
<g stroke="#000" stroke-width="1.1" fill="none">
<path d="M149.6 334.4h11.6"/>
<path d="M255.5 334.4h7.0"/>
<path d="M355.1 336.7h15.0"/>
<path d="M462.7 334.4h7.0"/>
</g>
</svg></body></html>
